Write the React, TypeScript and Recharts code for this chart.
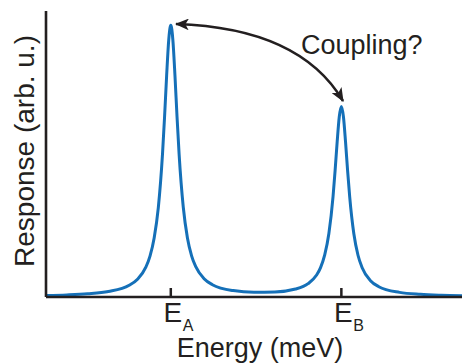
import { LineChart, Line, XAxis, YAxis } from "recharts";

// energy axis (arb. meV) and the measured response, two resonances at E_A and E_B
const energy = [
  0, 0.5, 1, 1.5, 2, 2.2, 2.4, 2.5, 2.6, 2.7, 2.8, 2.85, 2.9, 2.95, 3, 3.05,
  3.1, 3.15, 3.2, 3.3, 3.4, 3.5, 3.6, 3.8, 4, 4.5, 5, 5.5, 6, 6.3, 6.5, 6.6,
  6.7, 6.8, 6.9, 6.95, 7, 7.05, 7.1, 7.15, 7.2, 7.25, 7.3, 7.4, 7.5, 7.6, 7.8,
  8, 8.5, 9, 9.5, 10,
];
const response = [
  0.0055, 0.0077, 0.0117, 0.0202, 0.0434, 0.0658, 0.11, 0.151, 0.218, 0.33,
  0.526, 0.664, 0.817, 0.948, 1.002, 0.948, 0.817, 0.664, 0.526, 0.331, 0.218,
  0.152, 0.112, 0.0673, 0.0454, 0.0237, 0.0178, 0.0188, 0.0295, 0.0492, 0.08,
  0.1085, 0.155, 0.234, 0.37, 0.467, 0.574, 0.665, 0.703, 0.665, 0.573, 0.466,
  0.37, 0.233, 0.154, 0.108, 0.06, 0.038, 0.017, 0.0097, 0.0064, 0.0047,
];
const peakTicks = [3, 7.1];
const peakNames = ["A", "B"];

const data = energy.map((e, i) => ({ e, r: response[i] }));

const W = 462;
const H = 364;
const INK = "#231f20";
const FONT = "'Liberation Sans', Arial, Helvetica, sans-serif";

// inward tick plus an "E" label with the peak's subscript
function PeakTick(props: any) {
  const { x, y, index } = props;
  return (
    <g>
      <line x1={x} x2={x} y1={y - 9} y2={y} stroke={INK} strokeWidth={2.5} />
      <text
        x={x + 2}
        y={y + 25}
        textAnchor="middle"
        fontSize={28}
        fontFamily={FONT}
        fill={INK}
      >
        E
      </text>
      <text x={x + 12} y={y + 34} fontSize={16} fontFamily={FONT} fill={INK}>
        {peakNames[index]}
      </text>
    </g>
  );
}

export default function App() {
  return (
    <div style={{ position: "absolute", left: 0, top: 0, width: W, height: H }}>
      <LineChart
        width={W}
        height={H}
        data={data}
        margin={{ top: 11, right: 0, bottom: 0, left: 0 }}
      >
        <XAxis
          dataKey="e"
          type="number"
          domain={[0, 10]}
          ticks={peakTicks}
          tick={<PeakTick />}
          tickLine={false}
          tickSize={0}
          tickMargin={0}
          height={67}
          axisLine={{ stroke: INK, strokeWidth: 2.6 }}
        />
        <XAxis
          xAxisId="top"
          orientation="top"
          dataKey="e"
          type="number"
          domain={[0, 10]}
          tick={false}
          tickLine={false}
          height={0}
          axisLine={{ stroke: INK, strokeWidth: 2.6 }}
        />
        <YAxis
          type="number"
          domain={[0, 1.055]}
          width={46}
          tick={false}
          tickLine={false}
          axisLine={{ stroke: INK, strokeWidth: 2.6 }}
        />
        <Line
          dataKey="r"
          type="monotone"
          stroke="#1570b8"
          strokeWidth={3}
          dot={false}
          isAnimationActive={false}
        />
      </LineChart>
      <svg
        width={W}
        height={H}
        style={{ position: "absolute", left: 0, top: 0, pointerEvents: "none" }}
      >
        <defs>
          <marker
            id="head"
            viewBox="0 0 12 10"
            refX={11}
            refY={5}
            markerUnits="userSpaceOnUse"
            markerWidth={14}
            markerHeight={11.7}
            orient="auto-start-reverse"
          >
            <path d="M0,0 L12,5 L0,10 L3,5 z" fill={INK} />
          </marker>
        </defs>
        <path
          d="M176,24 Q300,28 343,101"
          fill="none"
          stroke={INK}
          strokeWidth={2.5}
          markerStart="url(#head)"
          markerEnd="url(#head)"
        />
        <text x={301} y={54} fontSize={27} fontFamily={FONT} fill={INK}>
          Coupling?
        </text>
        <text
          x={260}
          y={357}
          textAnchor="middle"
          fontSize={27}
          fontFamily={FONT}
          fill={INK}
        >
          Energy (meV)
        </text>
        <text
          transform="translate(34,151) rotate(-90)"
          textAnchor="middle"
          fontSize={28}
          fontFamily={FONT}
          fill={INK}
        >
          Response (arb. u.)
        </text>
      </svg>
    </div>
  );
}
